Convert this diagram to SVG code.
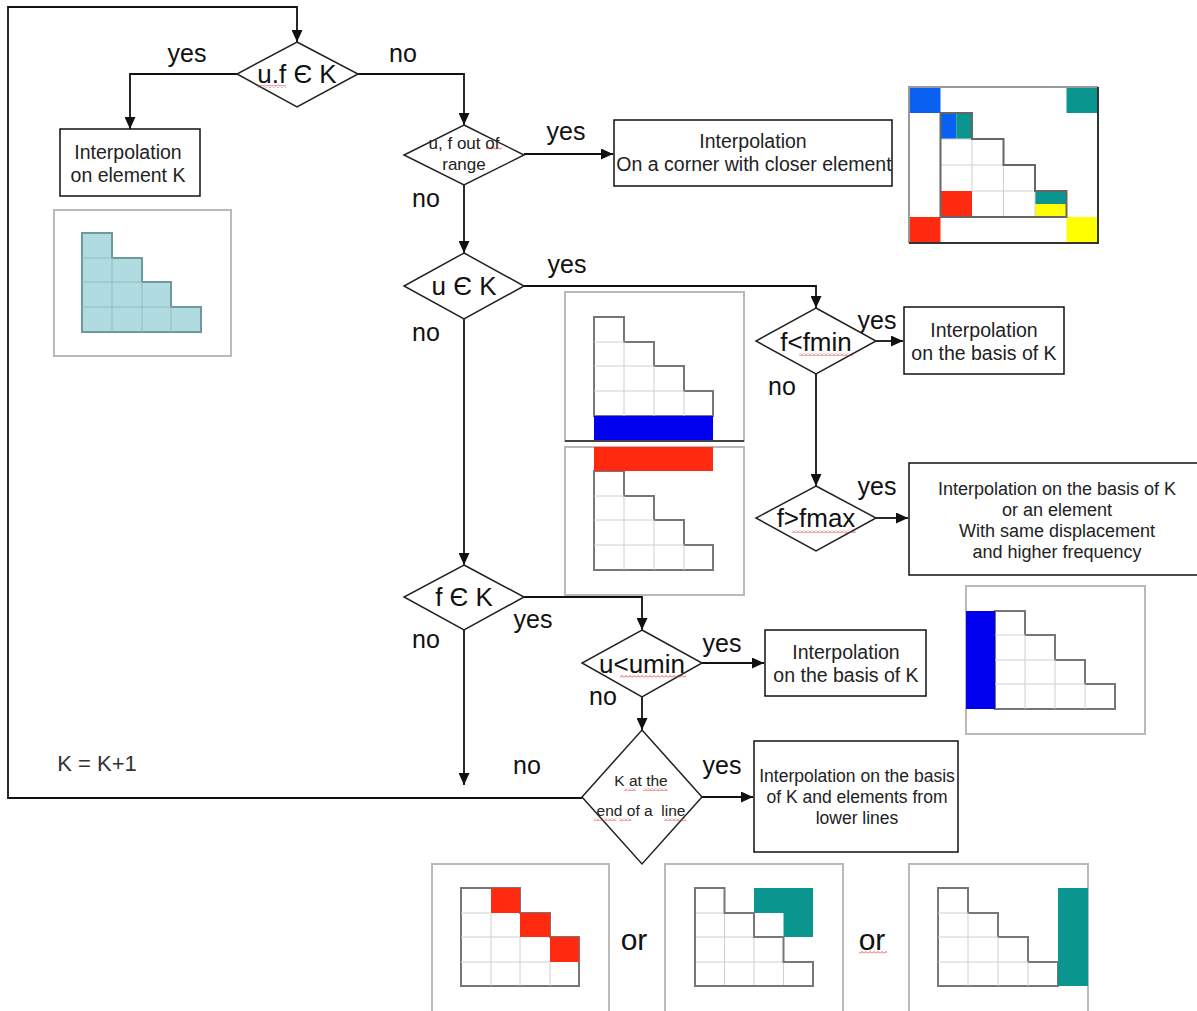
<svg xmlns="http://www.w3.org/2000/svg" width="1197" height="1011" viewBox="0 0 1197 1011">
<defs>
<style>
text{font-family:"Liberation Sans",Arial,sans-serif;fill:#111;text-anchor:middle}
.lbl{font-size:25px}
.dt{font-size:26px}
.bt{font-size:19.5px;fill:#222}
.b18{font-size:18px;fill:#222}
.b17{font-size:17.5px;fill:#222}
.sm{font-size:15.5px;fill:#222}
.box{fill:#fff;stroke:#111;stroke-width:1.5}
.dia{fill:#fff;stroke:#222;stroke-width:1.5}
.con{fill:none;stroke:#111;stroke-width:1.8}
.frame{fill:#fff;stroke:#b9b9b9;stroke-width:2}
.stair{fill:#fff;stroke:#777;stroke-width:2}
.grid{stroke:#d0d0d0;stroke-width:1;fill:none}
.sq{fill:url(#squig)}
</style>
<marker id="arr" markerUnits="userSpaceOnUse" markerWidth="12" markerHeight="11" refX="12" refY="5.5" orient="auto">
<path d="M0,0 L12,5.5 L0,11 z" fill="#111"/>
</marker>
<pattern id="squig" patternUnits="userSpaceOnUse" width="4" height="3">
<path d="M0,2.5 L2,0.5 L4,2.5" fill="none" stroke="#e02020" stroke-width="0.8"/>
</pattern>
</defs>
<rect width="1197" height="1011" fill="#fff"/>

<g id="connectors">
<path class="con" d="M582,798 H8 V7 H297 V42" marker-end="url(#arr)"/>
<path class="con" d="M237,74 H130 V129" marker-end="url(#arr)"/>
<path class="con" d="M358,74 H464 V125" marker-end="url(#arr)"/>
<path class="con" d="M524,154 H613" marker-end="url(#arr)"/>
<path class="con" d="M464,185 V253" marker-end="url(#arr)"/>
<path class="con" d="M524,286 H816 V308" marker-end="url(#arr)"/>
<path class="con" d="M464,319 V565" marker-end="url(#arr)"/>
<path class="con" d="M876,341 H903" marker-end="url(#arr)"/>
<path class="con" d="M816,374 V486" marker-end="url(#arr)"/>
<path class="con" d="M876,518 H908" marker-end="url(#arr)"/>
<path class="con" d="M524,597 H642 V630" marker-end="url(#arr)"/>
<path class="con" d="M464,630 V785" marker-end="url(#arr)"/>
<path class="con" d="M702,663 H764" marker-end="url(#arr)"/>
<path class="con" d="M642,697 V730" marker-end="url(#arr)"/>
<path class="con" d="M702,797 H753" marker-end="url(#arr)"/>
</g>

<g id="labels">
<text class="lbl" x="187" y="62">yes</text>
<text class="lbl" x="403" y="62">no</text>
<text class="lbl" x="566" y="140">yes</text>
<text class="lbl" x="426" y="207">no</text>
<text class="lbl" x="567" y="273">yes</text>
<text class="lbl" x="426" y="341">no</text>
<text class="lbl" x="877" y="329">yes</text>
<text class="lbl" x="782" y="395">no</text>
<text class="lbl" x="877" y="495">yes</text>
<text class="lbl" x="533" y="628">yes</text>
<text class="lbl" x="426" y="648">no</text>
<text class="lbl" x="722" y="652">yes</text>
<text class="lbl" x="603" y="705">no</text>
<text class="lbl" x="527" y="774">no</text>
<text class="lbl" x="722" y="774">yes</text>
<text x="97" y="771" style="font-size:22px;fill:#333">K = K+1</text>
<text x="634" y="950" style="font-size:30px">or</text>
<text x="872" y="950" style="font-size:30px">or</text>
<rect class="sq" x="859" y="951" width="28" height="3"/>
</g>

<g id="d1">
<polygon class="dia" points="297,42 358,74 297,107 237,74"/>
<text class="dt" x="297" y="83">u.f Є K</text>
<rect class="sq" x="258" y="85" width="28" height="3"/>
</g>
<g id="d2">
<polygon class="dia" points="464,125 524,155 464,185 404,155"/>
<text x="464" y="149" style="font-size:17px;fill:#222">u, f out of</text>
<text x="464" y="170" style="font-size:17px;fill:#222">range</text>
<rect class="sq" x="486" y="147" width="16" height="3"/>
</g>
<g id="d3">
<polygon class="dia" points="464,253 524,286 464,319 404,286"/>
<text class="dt" x="464" y="295">u Є K</text>
</g>
<g id="d4">
<polygon class="dia" points="816,308 876,341 816,374 756,341"/>
<text class="dt" x="816" y="351">f&lt;fmin</text>
<rect class="sq" x="799" y="353" width="54" height="3"/>
</g>
<g id="d5">
<polygon class="dia" points="464,565 524,597 464,630 404,597"/>
<text class="dt" x="464" y="606">f Є K</text>
</g>
<g id="d6">
<polygon class="dia" points="816,486 876,518 816,551 756,518"/>
<text class="dt" x="816" y="527">f&gt;fmax</text>
<rect class="sq" x="792" y="530" width="64" height="3"/>
</g>
<g id="d7">
<polygon class="dia" points="642,630 702,663 642,697 582,663"/>
<text class="dt" x="642" y="673">u&lt;umin</text>
<rect class="sq" x="620" y="675" width="66" height="3"/>
</g>
<g id="d8">
<polygon class="dia" points="642,730 702,797 642,864 582,797"/>
<text class="sm" x="641" y="786">K at the</text>
<text class="sm" x="641" y="816">end of a&#160; line</text>
<rect class="sq" x="624" y="788" width="12" height="3"/>
<rect class="sq" x="643" y="788" width="25" height="3"/>
<rect class="sq" x="594" y="818" width="22" height="3"/>
<rect class="sq" x="619" y="818" width="12" height="3"/>
<rect class="sq" x="664" y="818" width="22" height="3"/>
</g>

<g id="b1">
<rect class="box" x="60" y="129" width="140" height="67"/>
<text class="bt" x="128" y="159">Interpolation</text>
<text class="bt" x="128" y="182">on element K</text>
</g>
<g id="b2">
<rect class="box" x="614" y="120" width="278" height="66"/>
<text class="bt" x="753" y="148">Interpolation</text>
<text class="bt" x="754" y="171">On a corner with closer element</text>
</g>
<g id="b4">
<rect class="box" x="904" y="307" width="160" height="67"/>
<text class="bt" x="984" y="337">Interpolation</text>
<text class="bt" x="984" y="360">on the basis of K</text>
</g>
<g id="b6">
<rect class="box" x="909" y="463" width="290" height="112"/>
<text class="b18" x="1057" y="495">Interpolation on the basis of K</text>
<text class="b18" x="1057" y="516">or an element</text>
<text class="b18" x="1057" y="537">With same displacement</text>
<text class="b18" x="1057" y="558">and higher frequency</text>
</g>
<g id="b7">
<rect class="box" x="765" y="630" width="161" height="66"/>
<text class="bt" x="846" y="659">Interpolation</text>
<text class="bt" x="846" y="682">on the basis of K</text>
</g>
<g id="b8">
<rect class="box" x="754" y="741" width="204" height="111"/>
<text class="b17" x="857" y="782">Interpolation on the basis</text>
<text class="b17" x="857" y="803">of K and elements from</text>
<text class="b17" x="857" y="824">lower lines</text>
</g>

<g id="img-cyan">
<rect class="frame" x="54" y="210" width="177" height="146"/>
<polygon points="82,233 112,233 112,258 142,258 142,282 171,282 171,307 201,307 201,332 82,332" fill="#b0dbe0" stroke="#6e9a9e" stroke-width="2"/>
<path d="M112,258V332M142,282V332M171,307V332M82,258H112M82,282H142M82,307H171" stroke="#8fbcc0" stroke-width="1" fill="none"/>
</g>

<g id="img-corners">
<rect x="909" y="87" width="189" height="156" fill="#fff"/>
<rect x="909" y="87" width="31.5" height="26" fill="#0a60f0"/>
<rect x="1066.5" y="87" width="31.5" height="26" fill="#0a968f"/>
<rect x="909" y="217" width="31.5" height="26" fill="#ff2a10"/>
<rect x="1066.5" y="217" width="31.5" height="26" fill="#ffff00"/>
<rect x="940.5" y="113" width="15.75" height="26" fill="#0a60f0"/>
<rect x="956.25" y="113" width="15.75" height="26" fill="#0a968f"/>
<rect x="940.5" y="191" width="31.5" height="26" fill="#ff2a10"/>
<rect x="1035" y="191" width="31.5" height="13" fill="#0a968f"/>
<rect x="1035" y="204" width="31.5" height="13" fill="#ffff00"/>
<path class="grid" d="M972,139V191M1003.5,165V217M1035,191V217M940.5,139H972M940.5,165H1003.5M972,191H1035"/>
<polygon points="940.5,113 972,113 972,139 1003.5,139 1003.5,165 1035,165 1035,191 1066.5,191 1066.5,217 940.5,217" fill="none" stroke="#666" stroke-width="2"/>
<path d="M909,243 V87 H1098" fill="none" stroke="#999" stroke-width="2"/>
<path d="M1098,87 V243 H909" fill="none" stroke="#333" stroke-width="2"/>
</g>

<g id="img-blue-bar">
<rect class="frame" x="565" y="292" width="179" height="149"/>
<polygon class="stair" points="594,317 624,317 624,342 654,342 654,366 684,366 684,391 713,391 713,416 594,416"/>
<path class="grid" d="M624,342V416M654,366V416M684,391V416M594,342H624M594,366H654M594,391H684"/>
<rect x="594" y="416" width="119" height="25" fill="#0000ee"/>
<path d="M565,441 H744" stroke="#444" stroke-width="2"/>
</g>

<g id="img-red-bar">
<rect class="frame" x="565" y="447" width="179" height="148"/>
<polygon class="stair" points="594,471 624,471 624,496 654,496 654,520 684,520 684,545 713,545 713,570 594,570"/>
<path class="grid" d="M624,496V570M654,520V570M684,545V570M594,496H624M594,520H654M594,545H684"/>
<rect x="594" y="447" width="119" height="24" fill="#ff2a10"/>
</g>

<g id="img-blue-col">
<rect class="frame" x="966" y="586" width="179" height="148"/>
<polygon class="stair" points="995,611 1025,611 1025,635 1055,635 1055,660 1085,660 1085,684 1115,684 1115,709 995,709"/>
<path class="grid" d="M1025,635V709M1055,660V709M1085,684V709M995,635H1025M995,660H1055M995,684H1085"/>
<rect x="966" y="611" width="29" height="98" fill="#0000ee"/>
</g>

<g id="img-diag">
<rect class="frame" x="432" y="864" width="177" height="150"/>
<polygon class="stair" points="461,888 520,888 520,913 550,913 550,937 579,937 579,986 461,986"/>
<path class="grid" d="M491,913V986M520,937V986M550,962V986M461,913H491M461,937H520M461,962H550"/>
<rect x="491" y="888" width="29" height="25" fill="#ff2a10"/>
<rect x="520" y="913" width="30" height="24" fill="#ff2a10"/>
<rect x="550" y="937" width="29" height="25" fill="#ff2a10"/>
</g>

<g id="img-lshape">
<rect class="frame" x="665" y="864" width="178" height="150"/>
<polygon points="754,888 813,888 813,937 783.5,937 783.5,913 754,913" fill="#0a968f"/>
<path class="grid" d="M724.5,913V986M754,937V986M783.5,962V986M695,913H724.5M695,937H754M695,962H783.5"/>
<polygon points="695,888 724.5,888 724.5,913 754,913 754,937 783.5,937 783.5,962 813,962 813,986 695,986" fill="none" stroke="#777" stroke-width="2"/>
</g>

<g id="img-column">
<rect class="frame" x="909" y="864" width="179" height="150"/>
<polygon class="stair" points="938,888 968,888 968,913 998,913 998,937 1028,937 1028,962 1058,962 1058,986 938,986"/>
<path class="grid" d="M968,913V986M998,937V986M1028,962V986M938,913H968M938,937H998M938,962H1028"/>
<rect x="1058" y="888" width="30" height="98" fill="#0a968f"/>
</g>
</svg>
